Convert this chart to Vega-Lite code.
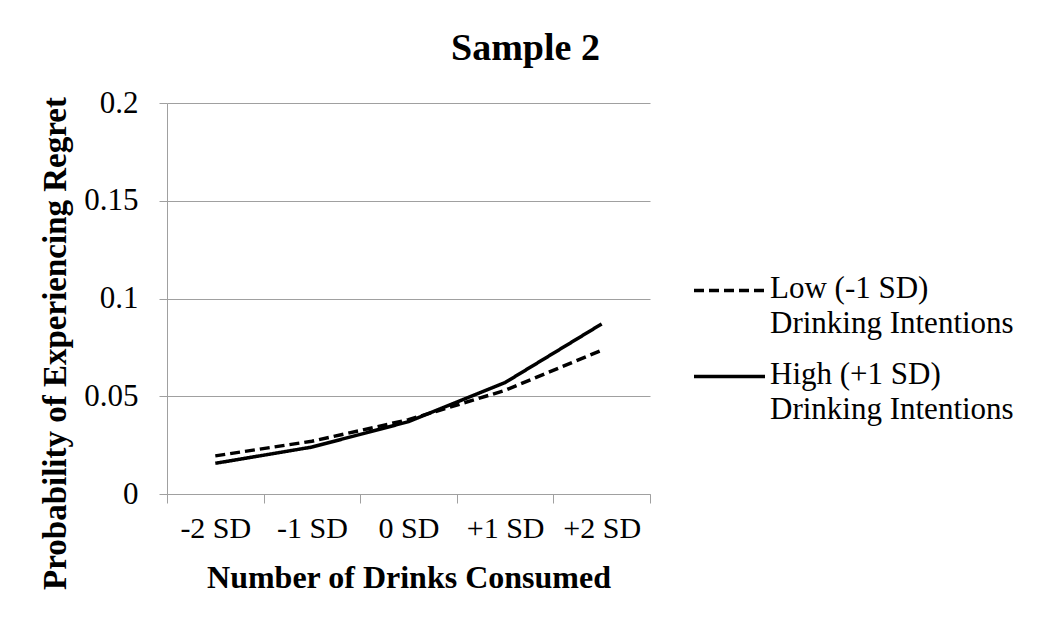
{
  "$schema": "https://vega.github.io/schema/vega-lite/v6.json",
  "autosize": "none",
  "width": 483,
  "height": 391,
  "padding": {"left": 167, "top": 103, "right": 400, "bottom": 137},
  "background": "white",
  "config": {
    "font": "Liberation Serif",
    "view": {"stroke": null}
  },
  "title": {
    "text": "Sample 2",
    "font": "Liberation Serif",
    "fontSize": 38,
    "fontWeight": "bold",
    "color": "black",
    "anchor": "middle",
    "dx": 117,
    "offset": 19
  },
  "data": {
    "values": [
      {"drinks": "-2 SD", "group": "Low (-1 SD)|Drinking Intentions", "p": 0.0195},
      {"drinks": "-1 SD", "group": "Low (-1 SD)|Drinking Intentions", "p": 0.027},
      {"drinks": "0 SD", "group": "Low (-1 SD)|Drinking Intentions", "p": 0.038},
      {"drinks": "+1 SD", "group": "Low (-1 SD)|Drinking Intentions", "p": 0.053},
      {"drinks": "+2 SD", "group": "Low (-1 SD)|Drinking Intentions", "p": 0.0735},
      {"drinks": "-2 SD", "group": "High (+1 SD)|Drinking Intentions", "p": 0.0157},
      {"drinks": "-1 SD", "group": "High (+1 SD)|Drinking Intentions", "p": 0.024},
      {"drinks": "0 SD", "group": "High (+1 SD)|Drinking Intentions", "p": 0.037},
      {"drinks": "+1 SD", "group": "High (+1 SD)|Drinking Intentions", "p": 0.057},
      {"drinks": "+2 SD", "group": "High (+1 SD)|Drinking Intentions", "p": 0.087}
    ]
  },
  "mark": {"type": "line", "color": "black", "strokeWidth": 3.5},
  "encoding": {
    "x": {
      "field": "drinks",
      "type": "nominal",
      "sort": ["-2 SD", "-1 SD", "0 SD", "+1 SD", "+2 SD"],
      "scale": {"type": "band", "paddingInner": 0, "paddingOuter": 0},
      "axis": {
        "title": "Number of Drinks Consumed",
        "titleFont": "Liberation Serif",
        "titleFontSize": 32,
        "titleFontWeight": "bold",
        "titleColor": "black",
        "titlePadding": 19,
        "labelFont": "Liberation Serif",
        "labelFontSize": 30,
        "labelColor": "black",
        "labelAngle": 0,
        "labelPadding": 10,
        "tickBand": "extent",
        "ticks": true,
        "tickSize": 9,
        "tickColor": "#a0a0a0",
        "domainColor": "#a0a0a0",
        "grid": false
      }
    },
    "y": {
      "field": "p",
      "type": "quantitative",
      "scale": {"domain": [0, 0.2], "nice": false},
      "axis": {
        "title": "Probability of Experiencing Regret",
        "titleFont": "Liberation Serif",
        "titleFontSize": 33,
        "titleFontWeight": "bold",
        "titleColor": "black",
        "titlePadding": 11,
        "titleY": 240,
        "labelFont": "Liberation Serif",
        "labelFontSize": 31,
        "labelColor": "black",
        "labelPadding": 21,
        "values": [0, 0.05, 0.1, 0.15, 0.2],
        "format": "~g",
        "tickSize": 8,
        "tickColor": "#a0a0a0",
        "domainColor": "#a0a0a0",
        "grid": true,
        "gridColor": "#a0a0a0",
        "gridWidth": 1
      }
    },
    "strokeDash": {
      "field": "group",
      "type": "nominal",
      "scale": {
        "domain": ["Low (-1 SD)|Drinking Intentions", "High (+1 SD)|Drinking Intentions"],
        "range": [[10, 5], [1, 0]]
      },
      "legend": {
        "title": null,
        "orient": "none",
        "legendX": 525,
        "legendY": 150,
        "labelExpr": "split(datum.label, '|')",
        "labelFont": "Liberation Serif",
        "labelFontSize": 31,
        "labelColor": "black",
        "labelLimit": 400,
        "labelOffset": 3,
        "labelBaseline": "top",
        "symbolType": "stroke",
        "symbolSize": 5041,
        "symbolStrokeWidth": 3.5,
        "symbolStrokeColor": "black",
        "rowPadding": 0,
        "encode": {
          "labels": {"update": {"dy": {"value": -17}, "lineHeight": {"value": 35}}}
        }
      }
    }
  }
}
